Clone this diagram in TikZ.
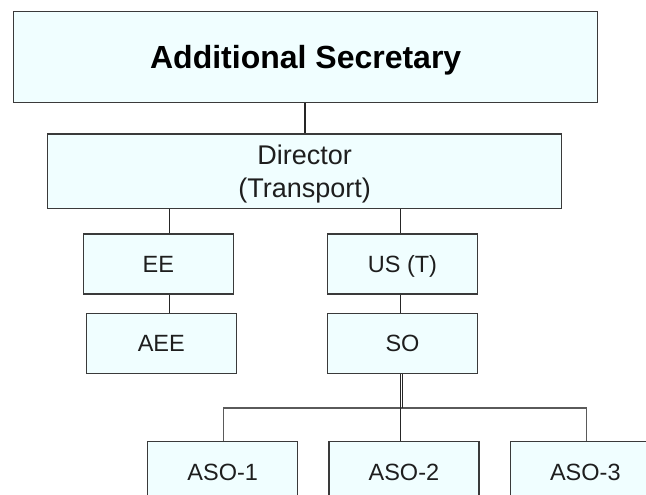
\documentclass[tikz,border=0pt]{standalone}
\usepackage{fontspec}
\setmainfont{Liberation Sans}
\definecolor{boxfill}{HTML}{F0FEFF}
\definecolor{boxdraw}{HTML}{3A3A3A}
\definecolor{txt}{HTML}{1E1E1E}
\definecolor{busgray}{HTML}{5A5A5A}
\begin{document}
\begin{tikzpicture}[x=1pt,y=-1pt,
  orgbox/.style={draw=boxdraw,fill=boxfill,line width=1.3pt,inner sep=0pt,
    minimum width=150pt,minimum height=60pt,text=txt,
    text height=16.8pt,text depth=0pt,
    font=\fontsize{23.5}{28}\selectfont},
  conn/.style={draw=black!85,line width=1.1pt},
  busline/.style={draw=busgray,line width=1.2pt}]
\useasboundingbox (0,0) rectangle (646,495);
\node[orgbox,minimum width=584pt,minimum height=90.6pt,text=black,
  text height=22.9pt,text depth=0pt,
  font=\fontsize{32}{38}\selectfont\bfseries] (AS) at (305.7,57) {Additional Secretary};
\node[orgbox,minimum width=514pt,minimum height=74.3pt,align=center,
  text height=52pt,text depth=0pt,
  font=\fontsize{27}{32.7}\selectfont] (Dir) at (304.7,171.2) {Director\\(Transport)};
\node[orgbox] (EE) at (158.3,263.9) {EE};
\node[orgbox] (AEE) at (161.3,343.5) {AEE};
\node[orgbox] (US) at (402.5,263.9) {US (T)};
\node[orgbox] (SO) at (402.5,343.5) {SO};
\node[orgbox] (ASO1) at (222.7,471.7) {ASO-1};
\node[orgbox] (ASO2) at (403.9,471.7) {ASO-2};
\node[orgbox] (ASO3) at (585.3,471.7) {ASO-3};
\coordinate (bus) at (0,408);
\draw[conn] ([xshift=-0.7pt]AS.south) -- ([xshift=-0.7pt]AS.south |- Dir.north);
\draw[conn] ([xshift=11pt]EE.north) -- ([xshift=11pt]EE.north |- Dir.south);
\draw[conn] ([xshift=11pt]EE.south) -- ([xshift=11pt]EE.south |- AEE.north);
\draw[conn] ([xshift=-2.2pt]US.north) -- ([xshift=-2.2pt]US.north |- Dir.south);
\draw[conn] ([xshift=-2.2pt]US.south) -- ([xshift=-2.2pt]US.south |- SO.north);
\draw[busline] ([xshift=0.6pt]ASO1.north) |- ([xshift=1.4pt]ASO3.north |- bus) -- ([xshift=1.4pt]ASO3.north);
\draw[conn] ([xshift=0.2pt]SO.south) -- ([xshift=0.2pt]SO.south |- bus);
\draw[conn] ([xshift=-2.2pt]SO.south) -- ([xshift=-2.2pt]SO.south |- ASO2.north);
\end{tikzpicture}
\end{document}
